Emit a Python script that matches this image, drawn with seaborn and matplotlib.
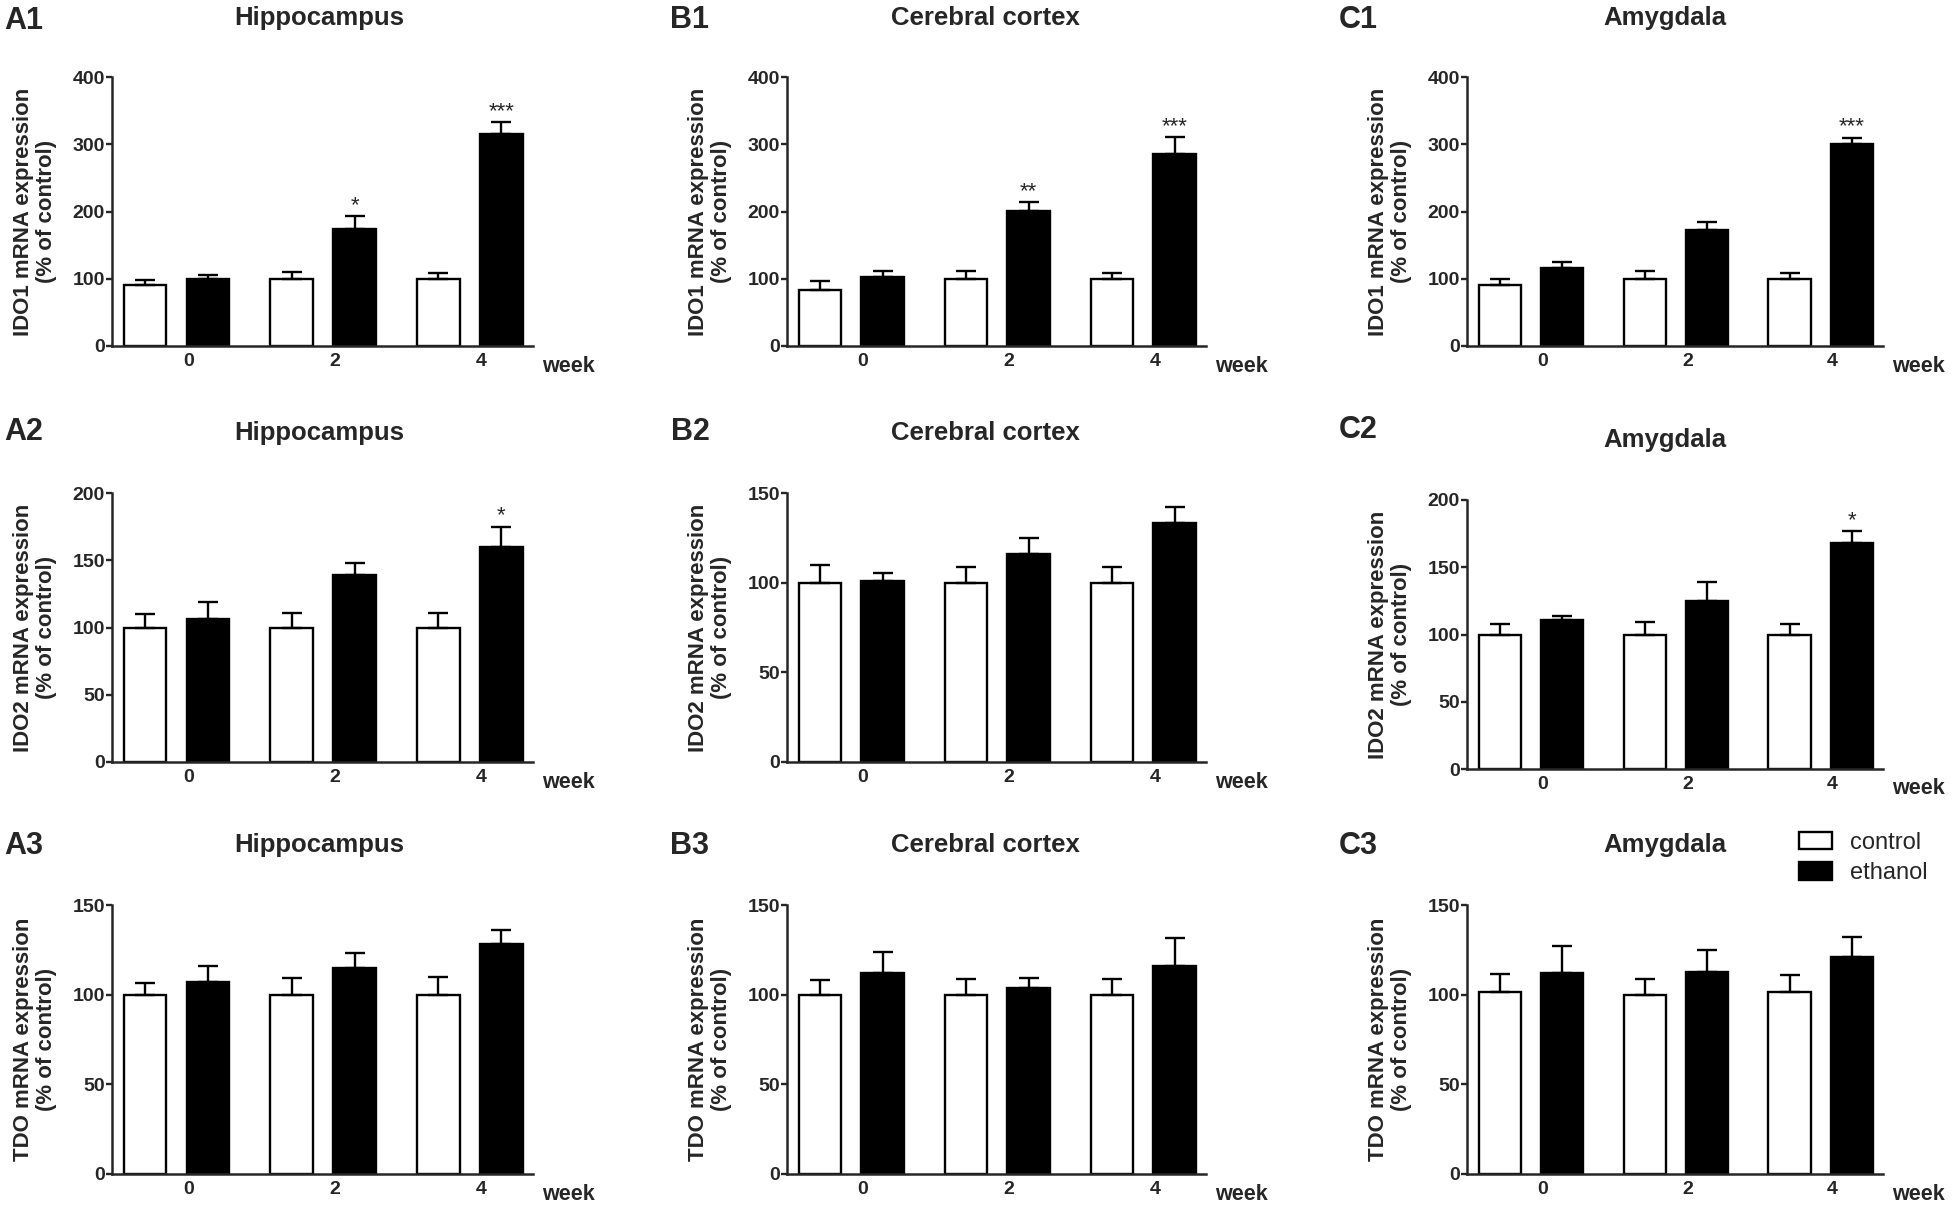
import matplotlib
matplotlib.use('Agg')
import matplotlib.pyplot as plt
import seaborn as sns
import numpy as np
import pandas as pd

# data (mean, upper SEM), one list per region
weeks = ['0', '2', '4']
groups = ['control', 'ethanol']
regions = ['Hippocampus', 'Cerebral cortex', 'Amygdala']
genes = ['IDO1', 'IDO2', 'TDO']

ido1_control = [[90, 100, 100], [84, 100, 100], [90, 100, 100]]
ido1_control_err = [[8, 10, 8], [13, 11, 8], [9, 11, 9]]
ido1_ethanol = [[99, 174, 315], [102, 201, 285], [116, 172, 300]]
ido1_ethanol_err = [[6, 19, 18], [10, 13, 26], [9, 12, 10]]
ido1_stars = [['', '*', '***'], ['', '**', '***'], ['', '', '***']]

ido2_control = [[100, 100, 100], [100, 100, 100], [100, 100, 100]]
ido2_control_err = [[10, 11, 11], [10, 9, 9], [8, 9, 8]]
ido2_ethanol = [[106, 139, 160], [101, 116, 133], [111, 125, 168]]
ido2_ethanol_err = [[13, 9, 15], [4.5, 9, 9], [3, 14, 9]]
ido2_stars = [['', '', '*'], ['', '', ''], ['', '', '*']]

tdo_control = [[100, 100, 100], [100, 100, 100], [101.5, 100, 101.5]]
tdo_control_err = [[6.5, 9.5, 10], [8, 8.5, 9], [10, 8.7, 9.3]]
tdo_ethanol = [[107, 115, 128], [112, 103.5, 116], [112, 112.6, 121]]
tdo_ethanol_err = [[9, 8, 8], [12, 6, 15.5], [15, 12.3, 11]]
tdo_stars = [['', '', ''], ['', '', ''], ['', '', '']]

ymax = [[400, 400, 400], [200, 150, 200], [150, 150, 150]]
ystep = [[100, 100, 100], [50, 50, 50], [50, 50, 50]]

gene_data = [
    (ido1_control, ido1_control_err, ido1_ethanol, ido1_ethanol_err, ido1_stars),
    (ido2_control, ido2_control_err, ido2_ethanol, ido2_ethanol_err, ido2_stars),
    (tdo_control, tdo_control_err, tdo_ethanol, tdo_ethanol_err, tdo_stars),
]

sns.set_style('ticks')
plt.rcParams['font.family'] = ['Liberation Sans', 'DejaVu Sans']

W, H = 1954, 1209
fig = plt.figure(figsize=(W / 100, H / 100), dpi=100)

# layout in pixels
col_left = [112, 787, 1467]
col_w = [421, 419, 416]
row_top = [[77, 77, 77], [493, 493, 500], [905, 905, 905]]
ax_h = 269
label_x = [24, 690, 1358]
label_base = [[29, 28, 28], [440, 440, 438], [854, 854, 854]]
title_x = [319, 985, 1665]
title_base = [[25, 25, 25], [440, 440, 447], [852, 852, 852]]

palette = {'control': 'white', 'ethanol': 'black'}

for r, gene in enumerate(genes):
    ctrl, ctrl_err, eth, eth_err, stars = gene_data[r]
    for c, region in enumerate(regions):
        top = row_top[r][c]
        ax = fig.add_axes([col_left[c] / W, 1 - (top + ax_h) / H,
                           col_w[c] / W, ax_h / H])
        df = pd.DataFrame({
            'week': weeks * 2,
            'group': [groups[0]] * 3 + [groups[1]] * 3,
            'value': ctrl[c] + eth[c],
        })
        sns.barplot(data=df, x='week', y='value', hue='group', order=weeks,
                    hue_order=groups, palette=palette, edgecolor='black',
                    linewidth=1.7, width=0.857, gap=0.32, errorbar=None,
                    legend=False, ax=ax)
        errs = [ctrl_err[c], eth_err[c]]
        bar_sets = list(ax.containers)
        for k, cont in enumerate(bar_sets):
            xs = np.array([b.get_x() + b.get_width() / 2 for b in cont])
            hs = np.array([b.get_height() for b in cont])
            e = np.array(errs[k])
            ax.errorbar(xs, hs, yerr=[np.zeros(len(e)), e], fmt='none',
                        ecolor='black', elinewidth=1.7, capsize=7.5,
                        capthick=1.7, zorder=3)
            if k == 1:
                for x, h, ee, s in zip(xs, hs, e, stars[c]):
                    if s:
                        ax.annotate(s, (x, h + ee), xytext=(0, 0),
                                    textcoords='offset points', ha='center',
                                    va='bottom', fontsize=16)
        ax.set_xlim(-0.44, 2.43)
        ax.set_ylim(0, ymax[r][c])
        ax.set_yticks(np.arange(0, ymax[r][c] + 1, ystep[r][c]))
        ax.set_xticks(np.arange(3) + 0.08, weeks)
        ax.tick_params(axis='x', length=0, pad=5, labelsize=14)
        ax.tick_params(axis='y', length=4, width=1.7, pad=1, labelsize=14)
        for lab in ax.get_xticklabels() + ax.get_yticklabels():
            lab.set_fontweight('bold')
        sns.despine(ax=ax)
        for sp in ['left', 'bottom']:
            ax.spines[sp].set_linewidth(1.8)
        ax.set_xlabel('')
        ax.set_ylabel(f'{gene} mRNA expression\n(% of control)',
                      fontsize=16, fontweight='bold', linespacing=1.1)
        ax.yaxis.set_label_coords(-55 / col_w[c], 0.5)
        ax.text(1 + 9 / col_w[c], -20 / ax_h, 'week', transform=ax.transAxes,
                ha='left', va='center', fontsize=15.5, fontweight='bold')

        fig.text(label_x[c] / W, 1 - label_base[r][c] / H,
                 'ABC'[c] + str(r + 1), ha='center', va='baseline',
                 fontsize=22, fontweight='bold')
        fig.text(title_x[c] / W, 1 - title_base[r][c] / H, region,
                 ha='center', va='baseline', fontsize=18.5, fontweight='bold')

        if r == 2 and c == 2:
            handles = [plt.Rectangle((0, 0), 1, 1, facecolor=palette[g],
                                     edgecolor='black', linewidth=1.7)
                       for g in groups]
            fig.legend(handles, groups, loc='upper left',
                       bbox_to_anchor=(1799 / W, 1 - 832 / H), frameon=False,
                       fontsize=17, handlelength=1.4, handleheight=0.76,
                       handletextpad=0.75, labelspacing=0.35, borderpad=0,
                       borderaxespad=0)

fig.savefig('out.png', dpi=100, facecolor='white')
